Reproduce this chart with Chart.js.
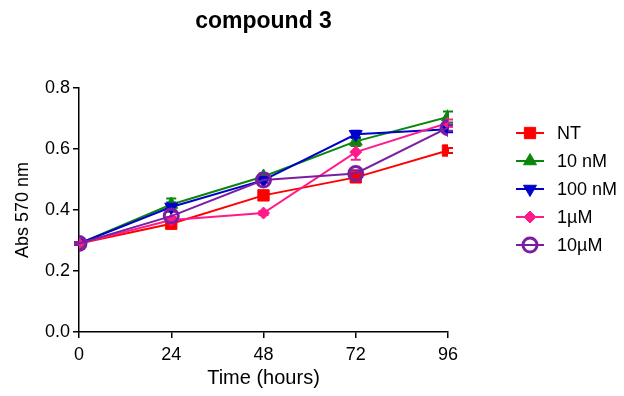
<!DOCTYPE html>
<html><head><meta charset="utf-8">
<script src="https://cdn.jsdelivr.net/npm/chart.js@4/dist/chart.umd.min.js"></script>
<style>html,body{margin:0;padding:0;background:#fff;}canvas{display:block;}</style>
</head><body>
<canvas id="c" width="624" height="396"></canvas>
<script>
const hours = [0, 24, 48, 72, 96];
const seriesNames = ['NT', '10 nM', '100 nM', '1µM', '10µM'];
const valNT    = [0.29, 0.355, 0.448, 0.507, 0.595];
const val10nM  = [0.29, 0.418, 0.510, 0.625, 0.705];
const val100nM = [0.29, 0.410, 0.498, 0.648, 0.665];
const val1uM   = [0.29, 0.367, 0.390, 0.590, 0.685];
const val10uM  = [0.29, 0.380, 0.498, 0.520, 0.670];
const errNT    = [0.004, 0.008, 0.008, 0.008, 0.008];
const err10nM  = [0.004, 0.020, 0.010, 0.015, 0.018];
const err100nM = [0.004, 0.015, 0.008, 0.012, 0.010];
const err1uM   = [0.004, 0.010, 0.006, 0.025, 0.012];
const err10uM  = [0.004, 0.015, 0.008, 0.010, 0.010];
const yTicks = [0, 0.2, 0.4, 0.6, 0.8];
const xTicks = [0, 24, 48, 72, 96];

const FONT = "'Liberation Sans', Arial, sans-serif";
const colors = ['#FF0000', '#0A870A', '#0000CC', '#FF1A8C', '#7A1FA2'];
const styles = [
  {pointStyle: 'rect', radius: 8, rot: 0, fill: true},
  {pointStyle: 'triangle', radius: 7.5, rot: 0, fill: true},
  {pointStyle: 'triangle', radius: 7.5, rot: 180, fill: true},
  {pointStyle: 'rectRot', radius: 6, rot: 0, fill: true},
  {pointStyle: 'circle', radius: 7, rot: 0, fill: false}
];
const allVals = [valNT, val10nM, val100nM, val1uM, val10uM];
const allErrs = [errNT, err10nM, err100nM, err1uM, err10uM];

const datasets = allVals.map((vals, i) => ({
  label: seriesNames[i],
  data: hours.map((h, j) => ({x: h, y: vals[j]})),
  errors: allErrs[i],
  borderColor: colors[i],
  backgroundColor: styles[i].fill ? colors[i] : 'rgba(255,255,255,0)',
  pointBackgroundColor: styles[i].fill ? colors[i] : 'rgba(255,255,255,0)',
  pointBorderColor: colors[i],
  pointBorderWidth: styles[i].fill ? 1 : 3,
  pointStyle: styles[i].pointStyle,
  pointRadius: styles[i].radius,
  pointRotation: styles[i].rot,
  borderWidth: 2,
  tension: 0,
  order: 4 - i
}));

const errorBars = {
  id: 'errorBars',
  beforeDatasetsDraw(chart) {
    const ctx = chart.ctx;
    const xs = chart.scales.x, ys = chart.scales.y;
    ctx.save();
    chart.data.datasets.forEach((ds, i) => {
      ctx.strokeStyle = ds.borderColor;
      ctx.lineWidth = 2;
      ds.data.forEach((p, j) => {
        const e = ds.errors[j];
        const px = xs.getPixelForValue(p.x);
        const yt = ys.getPixelForValue(p.y + e);
        const yb = ys.getPixelForValue(p.y - e);
        ctx.beginPath();
        ctx.moveTo(px, yt); ctx.lineTo(px, yb);
        ctx.moveTo(px - 5, yt); ctx.lineTo(px + 5, yt);
        ctx.moveTo(px - 5, yb); ctx.lineTo(px + 5, yb);
        ctx.stroke();
      });
    });
    ctx.restore();
  }
};

const titleAndLegend = {
  id: 'titleAndLegend',
  afterDraw(chart) {
    const ctx = chart.ctx;
    const a = chart.chartArea;
    ctx.save();
    ctx.fillStyle = '#000';
    ctx.font = 'bold 23px ' + FONT;
    ctx.textAlign = 'center';
    ctx.textBaseline = 'middle';
    ctx.fillText('compound 3', (a.left + a.right) / 2, 22);
    // legend
    chart.data.datasets.forEach((ds, i) => {
      const y = 133 + i * 28;
      ctx.strokeStyle = ds.borderColor;
      ctx.lineWidth = 2;
      ctx.beginPath();
      ctx.moveTo(516, y); ctx.lineTo(544, y);
      ctx.stroke();
      ctx.fillStyle = ds.pointBackgroundColor;
      ctx.strokeStyle = ds.pointBorderColor;
      ctx.lineWidth = ds.pointBorderWidth;
      Chart.helpers.drawPoint(ctx, {pointStyle: ds.pointStyle, radius: ds.pointRadius, rotation: ds.pointRotation, borderWidth: ds.pointBorderWidth}, 530, y);
      ctx.fillStyle = '#000';
      ctx.font = '18px ' + FONT;
      ctx.textAlign = 'left';
      ctx.fillText(ds.label, 557, y + 1);
    });
    ctx.restore();
  }
};

new Chart(document.getElementById('c'), {
  type: 'line',
  data: {datasets},
  plugins: [errorBars, titleAndLegend],
  options: {
    responsive: false,
    animation: false,
    devicePixelRatio: 1,
    layout: {padding: {left: 0, top: 88, right: 176, bottom: 0}},
    plugins: {legend: {display: false}, title: {display: false}, tooltip: {enabled: false}},
    scales: {
      x: {
        type: 'linear', min: 0, max: 96,
        afterBuildTicks: s => { s.ticks = xTicks.map(v => ({value: v})); },
        ticks: {color: '#000', font: {size: 18, family: FONT}, padding: 6, maxRotation: 0},
        grid: {drawOnChartArea: false, drawTicks: true, tickLength: 6, color: '#000', lineWidth: 1.5},
        border: {display: true, color: '#000', width: 1.5},
        title: {display: true, text: 'Time (hours)', color: '#000', font: {size: 20, family: FONT}, padding: {top: 0, bottom: 6}},
        afterFit: s => { s.height = 64; }
      },
      y: {
        type: 'linear', min: 0, max: 0.8,
        afterBuildTicks: s => { s.ticks = yTicks.map(v => ({value: v})); },
        ticks: {color: '#000', font: {size: 18, family: FONT}, padding: 3, callback: v => v.toFixed(1)},
        grid: {drawOnChartArea: false, drawTicks: true, tickLength: 6, color: '#000', lineWidth: 1.5},
        border: {display: true, color: '#000', width: 1.5},
        title: {display: true, text: 'Abs 570 nm', color: '#000', font: {size: 18, family: FONT}, padding: {top: 12, bottom: 0}},
        afterFit: s => { s.width = 79; }
      }
    }
  }
});
</script>
</body></html>
